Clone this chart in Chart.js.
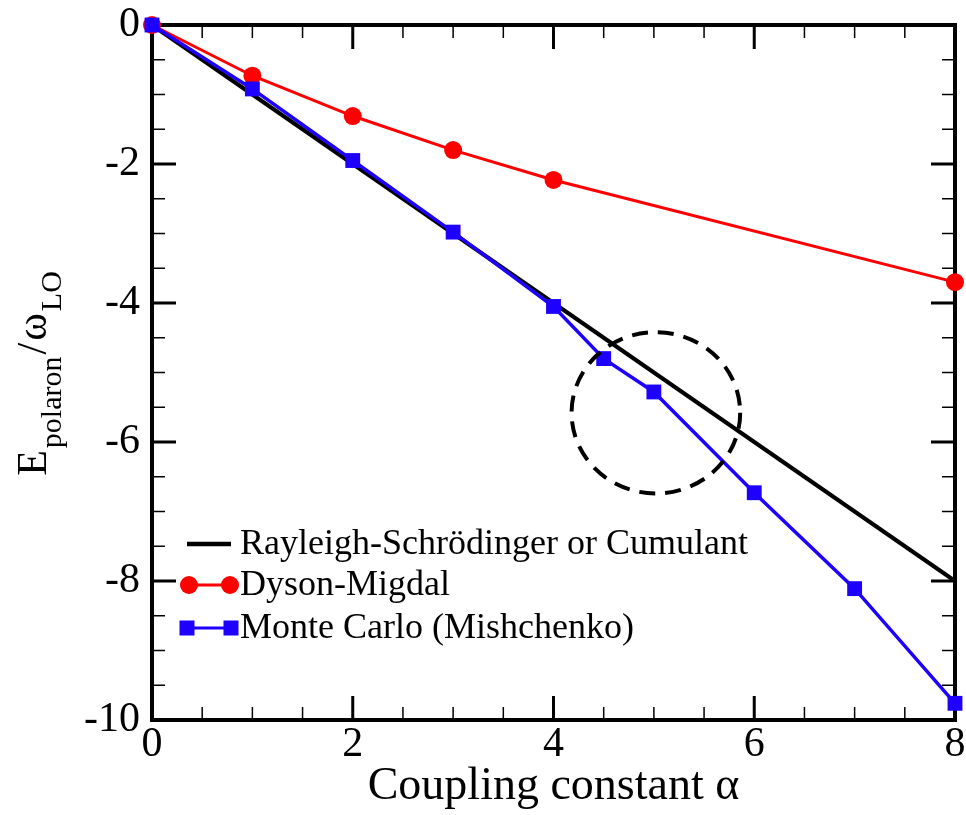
<!DOCTYPE html>
<html>
<head>
<meta charset="utf-8">
<title>Energía del polarón</title>
<script src="https://cdn.jsdelivr.net/npm/chart.js@4.4.0/dist/chart.umd.min.js"></script>
<style>
  html, body { margin: 0; padding: 0; background: #fff; }
  #grafico { display: block; }
</style>
</head>
<body>
<canvas id="grafico" width="966" height="815"></canvas>
<script>
// Datos
const alphaRS = [0, 8];
const energiaRS = [0, -8];
const alphaDM = [0, 1, 2, 3, 4, 8];
const energiaDM = [0, -0.73, -1.31, -1.80, -2.23, -3.70];
const alphaMC = [0, 1, 2, 3, 4, 4.5, 5, 6, 7, 8];
const energiaMC = [0, -0.92, -1.95, -2.98, -4.05, -4.80, -5.28, -6.73, -8.11, -9.76];

// Marcas de los ejes
const xTicks = [0, 2, 4, 6, 8];
const yTicks = [0, -2, -4, -6, -8, -10];
const pasoMenor = 0.5;

const etiquetas = ['Rayleigh-Schrödinger or Cumulant', 'Dyson-Migdal', 'Monte Carlo (Mishchenko)'];
const tituloX = 'Coupling constant α';

// Círculo discontinuo (en unidades de los ejes)
const circulo = { x: 5.02, y: -5.58, rx: 0.84, ry: 1.16 };

const negro = '#000000';
const rojo = '#ff0000';
const azul = '#1e00ff';
const fuente = '"Liberation Serif", "Times New Roman", serif';

document.addEventListener('DOMContentLoaded', function () {
    const ctx = document.getElementById('grafico').getContext('2d');

    const toPuntos = (xs, ys) => xs.map((x, i) => ({ x: x, y: ys[i] }));

    // Marco con marcas hacia dentro en los cuatro lados
    const marcoPlugin = {
        id: 'marco',
        beforeDatasetsDraw(chart) {
            const { ctx, chartArea: a, scales: { x, y } } = chart;
            ctx.save();
            ctx.strokeStyle = negro;

            function marcasX(valores, largo, ancho) {
                ctx.lineWidth = ancho;
                valores.forEach(v => {
                    const px = x.getPixelForValue(v);
                    ctx.beginPath();
                    ctx.moveTo(px, a.bottom); ctx.lineTo(px, a.bottom - largo);
                    ctx.moveTo(px, a.top); ctx.lineTo(px, a.top + largo);
                    ctx.stroke();
                });
            }
            function marcasY(valores, largo, ancho) {
                ctx.lineWidth = ancho;
                valores.forEach(v => {
                    const py = y.getPixelForValue(v);
                    ctx.beginPath();
                    ctx.moveTo(a.left, py); ctx.lineTo(a.left + largo, py);
                    ctx.moveTo(a.right, py); ctx.lineTo(a.right - largo, py);
                    ctx.stroke();
                });
            }

            const menoresX = [];
            for (let v = x.min; v <= x.max + 1e-9; v += pasoMenor) {
                if (!xTicks.includes(v)) menoresX.push(v);
            }
            const menoresY = [];
            for (let v = y.min; v <= y.max + 1e-9; v += pasoMenor) {
                if (!yTicks.includes(v)) menoresY.push(v);
            }

            marcasX(menoresX, 13, 1.5);
            marcasY(menoresY, 13, 1.5);
            marcasX(xTicks, 24, 3);
            marcasY(yTicks, 24, 3);

            ctx.lineWidth = 4;
            ctx.strokeRect(a.left, a.top, a.right - a.left, a.bottom - a.top);
            ctx.restore();
        },
        afterDatasetsDraw(chart) {
            // Círculo discontinuo
            const { ctx, scales: { x, y } } = chart;
            const cx = x.getPixelForValue(circulo.x);
            const cy = y.getPixelForValue(circulo.y);
            const rx = x.getPixelForValue(circulo.x + circulo.rx) - cx;
            const ry = y.getPixelForValue(circulo.y - circulo.ry) - cy;
            ctx.save();
            ctx.strokeStyle = negro;
            ctx.lineWidth = 4;
            ctx.setLineDash([16, 10]);
            ctx.beginPath();
            ctx.ellipse(cx, cy, rx, ry, 0, 0, Math.PI * 2);
            ctx.stroke();
            ctx.restore();
        },
        afterDraw(chart) {
            const { ctx, chartArea: a } = chart;
            ctx.save();

            // Leyenda dentro del área
            const filas = [544, 585, 628];
            const x0 = 187, x1 = 231;
            ctx.font = '36px ' + fuente;
            ctx.fillStyle = negro;
            ctx.textBaseline = 'middle';
            ctx.textAlign = 'left';

            // Rayleigh-Schrödinger
            ctx.strokeStyle = negro;
            ctx.lineWidth = 4.5;
            ctx.beginPath(); ctx.moveTo(x0, filas[0]); ctx.lineTo(x1, filas[0]); ctx.stroke();
            // Dyson-Migdal
            ctx.strokeStyle = rojo; ctx.fillStyle = rojo; ctx.lineWidth = 3;
            ctx.beginPath(); ctx.moveTo(x0 + 2, filas[1]); ctx.lineTo(x1 - 1, filas[1]); ctx.stroke();
            [x0 + 2, x1 - 1].forEach(px => {
                ctx.beginPath(); ctx.arc(px, filas[1], 9, 0, Math.PI * 2); ctx.fill();
            });
            // Monte Carlo
            ctx.strokeStyle = azul; ctx.fillStyle = azul;
            ctx.beginPath(); ctx.moveTo(x0, filas[2]); ctx.lineTo(x1, filas[2]); ctx.stroke();
            [x0, x1].forEach(px => ctx.fillRect(px - 7.5, filas[2] - 7.5, 15, 15));

            ctx.fillStyle = negro;
            etiquetas.forEach((t, i) => ctx.fillText(t, 240, filas[i] + 1));

            // Título del eje Y con subíndices
            const grande = '42px ' + fuente;
            const chico = '30px ' + fuente;
            const partes = [
                { t: 'E', f: grande, dy: 0 },
                { t: 'polaron', f: chico, dy: 15 },
                { t: '/', f: grande, dy: 0 },
                { t: 'ω', f: grande, dy: 0 },
                { t: 'LO', f: chico, dy: 15 }
            ];
            let total = 0;
            partes.forEach(p => { ctx.font = p.f; p.w = ctx.measureText(p.t).width; total += p.w + 2; });
            const centro = (a.top + a.bottom) / 2;
            ctx.translate(46, centro);
            ctx.rotate(-Math.PI / 2);
            ctx.textBaseline = 'alphabetic';
            let pos = -total / 2;
            partes.forEach(p => {
                ctx.font = p.f;
                ctx.fillText(p.t, pos, p.dy);
                pos += p.w + 2;
            });
            ctx.restore();
        }
    };

    new Chart(ctx, {
        type: 'scatter',
        data: {
            datasets: [
                {
                    label: etiquetas[2],
                    data: toPuntos(alphaMC, energiaMC),
                    showLine: true,
                    borderColor: azul,
                    backgroundColor: azul,
                    borderWidth: 3.5,
                    pointStyle: 'rect',
                    pointRadius: 10.5,
                    pointBorderWidth: 0,
                    order: 0,
                    clip: false
                },
                {
                    label: etiquetas[1],
                    data: toPuntos(alphaDM, energiaDM),
                    showLine: true,
                    borderColor: rojo,
                    backgroundColor: rojo,
                    borderWidth: 3,
                    pointStyle: 'circle',
                    pointRadius: 9,
                    pointBorderWidth: 0,
                    order: 1,
                    clip: false
                },
                {
                    label: etiquetas[0],
                    data: toPuntos(alphaRS, energiaRS),
                    showLine: true,
                    borderColor: negro,
                    borderWidth: 4,
                    pointRadius: 0,
                    order: 2,
                    clip: false
                }
            ]
        },
        options: {
            responsive: false,
            animation: false,
            events: [],
            layout: { padding: { top: 25, right: 11, left: 0, bottom: 0 } },
            plugins: { legend: { display: false }, tooltip: { enabled: false } },
            scales: {
                x: {
                    type: 'linear',
                    min: 0,
                    max: 8,
                    grid: { display: false, drawTicks: false },
                    border: { display: false },
                    ticks: { color: negro, padding: 0, font: { family: fuente, size: 42 } },
                    afterBuildTicks: s => { s.ticks = xTicks.map(v => ({ value: v })); },
                    afterFit: s => { s.height = 95; s.paddingLeft = 0; s.paddingRight = 0; },
                    title: {
                        display: true,
                        text: tituloX,
                        color: negro,
                        padding: 0,
                        font: { family: fuente, size: 46, lineHeight: 1.2 }
                    }
                },
                y: {
                    type: 'linear',
                    min: -10,
                    max: 0,
                    grid: { display: false, drawTicks: false },
                    border: { display: false },
                    ticks: { color: negro, padding: 12, font: { family: fuente, size: 42 } },
                    afterBuildTicks: s => { s.ticks = yTicks.map(v => ({ value: v })); },
                    afterFit: s => { s.width = 152; s.paddingTop = 0; s.paddingBottom = 0; }
                }
            }
        },
        plugins: [marcoPlugin]
    });
});
</script>
</body>
</html>
